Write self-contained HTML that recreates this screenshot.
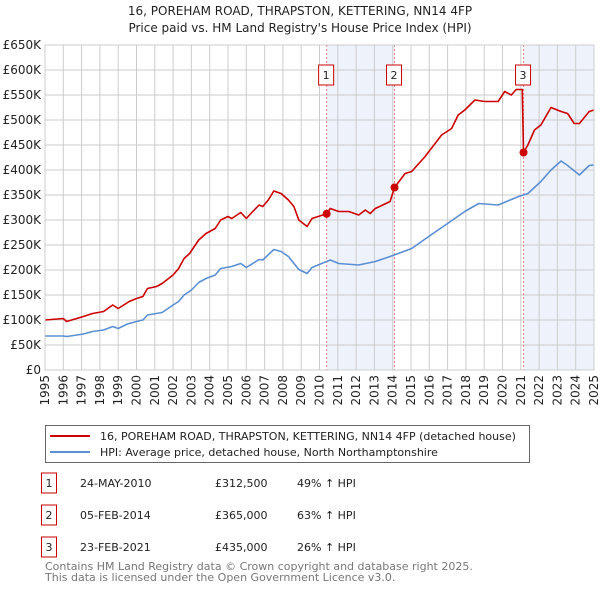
<!DOCTYPE html>
<html><head><meta charset="utf-8"><style>
body{margin:0;background:#fff;font-family:"Liberation Sans","DejaVu Sans",sans-serif;}
svg text{font-family:"DejaVu Sans","Liberation Sans",sans-serif;}
</style></head><body>
<svg id="c" width="600" height="590" viewBox="0 0 600 590" xmlns="http://www.w3.org/2000/svg">
<text x="300" y="15" text-anchor="middle" font-size="12" fill="#222">16, POREHAM ROAD, THRAPSTON, KETTERING, NN14 4FP</text>
<text x="300" y="32" text-anchor="middle" font-size="12" fill="#222">Price paid vs. HM Land Registry's House Price Index (HPI)</text>
<g id="plot"></g>
<g>
<rect x="45.5" y="425.5" width="484" height="37" fill="#fff" stroke="#666"/>
<line x1="50" y1="436" x2="90" y2="436" stroke="#cc0000" stroke-width="2"/>
<text x="100" y="440" font-size="11" fill="#222">16, POREHAM ROAD, THRAPSTON, KETTERING, NN14 4FP (detached house)</text>
<line x1="50" y1="452" x2="90" y2="452" stroke="#5b8fd4" stroke-width="2"/>
<text x="100" y="456" font-size="11" fill="#222">HPI: Average price, detached house, North Northamptonshire</text>
</g>
<g id="table" font-size="11" fill="#222"></g>
<text x="45" y="570" font-size="11" fill="#777">Contains HM Land Registry data © Crown copyright and database right 2025.</text>
<text x="45" y="581" font-size="11" fill="#777">This data is licensed under the Open Government Licence v3.0.</text>
</svg>
<script>
const hpiYears=[1995,1996,1996.2,1997.1,1997.6,1998.2,1998.7,1999.0,1999.5,2000,2000.35,2000.6,2001.4,2002,2002.3,2002.6,2003.0,2003.4,2003.8,2004.3,2004.6,2005.2,2005.7,2006.0,2006.7,2006.9,2007.5,2007.9,2008.3,2008.87,2009.32,2009.59,2010.59,2011.05,2012.14,2013.05,2013.86,2015.04,2016.2,2017.0,2017.94,2018.7,2019.76,2020.88,2021.39,2022.1,2022.65,2023.2,2023.56,2024.2,2024.74,2025];
const hpiValues=[68,68,67,72,77,80,87,83,92,97,100,110,115,130,137,150,160,175,183,190,203,207,213,205,221,220,241,237,227,201,193,205,220,213,210,217,227,243,273,293,317,333,330,347,353,377,400,418,409,390,409,410];
const propYears=[1995,1996,1996.18,1997.1,1997.6,1998.2,1998.7,1999.0,1999.6,2000,2000.35,2000.6,2001.1,2001.4,2002,2002.3,2002.6,2002.9,2003.4,2003.8,2004.3,2004.6,2005.0,2005.2,2005.7,2006.0,2006.3,2006.7,2006.9,2007.2,2007.5,2007.9,2008.3,2008.6,2008.87,2009.32,2009.59,2010.39,2010.59,2011.05,2011.6,2012.14,2012.5,2012.77,2013.05,2013.86,2014.1,2014.68,2015.04,2015.77,2016.67,2017.22,2017.58,2017.94,2018.49,2019.03,2019.76,2020.12,2020.48,2020.75,2021.08,2021.15,2021.39,2021.75,2022.1,2022.65,2023.2,2023.56,2023.92,2024.2,2024.74,2025];
const propValues=[100,103,97,107,113,117,130,123,137,143,147,163,167,173,190,203,223,233,260,273,283,300,307,303,315,303,315,330,327,340,358,353,340,327,300,287,303,312.5,323,317,317,310,320,313,323,337,365,393,397,427,470,483,510,520,540,537,537,557,550,561,561,435,450,480,490,525,517,513,493,493,517,520];
const saleLabels=["1","2","3"];
const saleYears=[2010.39,2014.1,2021.15];
const saleValues=[312.5,365,435];
const saleDates=["24-MAY-2010","05-FEB-2014","23-FEB-2021"];
const salePrices=["£312,500","£365,000","£435,000"];
const saleHpi=["49% ↑ HPI","63% ↑ HPI","26% ↑ HPI"];
const yTicks=[0,50,100,150,200,250,300,350,400,450,500,550,600,650];
const yTickLabels=["£0","£50K","£100K","£150K","£200K","£250K","£300K","£350K","£400K","£450K","£500K","£550K","£600K","£650K"];
const xTicks=[1995,1996,1997,1998,1999,2000,2001,2002,2003,2004,2005,2006,2007,2008,2009,2010,2011,2012,2013,2014,2015,2016,2017,2018,2019,2020,2021,2022,2023,2024,2025];

const NS="http://www.w3.org/2000/svg";
const X0=45,X1=594,Y0=370,Y1=45;
const xs=y=>X0+(y-1995)/30*(X1-X0);
const ys=v=>Y0-v/650*(Y0-Y1);
const plot=document.getElementById('plot');
function mk(tag,at,parent){const e=document.createElementNS(NS,tag);for(const k in at)e.setAttribute(k,at[k]);(parent||plot).appendChild(e);return e;}
// shading
[[saleYears[0],saleYears[1]],[saleYears[2],2025]].forEach((r,i)=>{
 const e=mk('rect',{x:xs(r[0]),y:Y1,width:xs(r[1])-xs(r[0]),height:Y0-Y1,fill:'#eef2fb'});
 
 
});
// grid
yTicks.forEach((t,i)=>{
 const l=mk('line',{x1:X0,x2:X1,y1:ys(t),y2:ys(t),stroke:'#ccc','stroke-width':1});
 
 
 const tx=mk('text',{x:X0-4,y:ys(t)+4,'text-anchor':'end','font-size':12,fill:'#222'});
 tx.textContent=yTickLabels[i];
 
 
});
xTicks.forEach(t=>{
 const l=mk('line',{x1:xs(t),x2:xs(t),y1:Y1,y2:Y0,stroke:'#ccc','stroke-width':1});
 
 
 const tx=mk('text',{x:0,y:0,'text-anchor':'end','font-size':12,fill:'#222',transform:`translate(${xs(t)+4},${Y0+5}) rotate(-90)`});
 tx.textContent=t;
 
 
});
// sale vlines
saleYears.forEach((y,i)=>{
 const l=mk('line',{x1:xs(y),x2:xs(y),y1:Y1,y2:Y0,stroke:'#f08080','stroke-width':1,'stroke-dasharray':'2,2'});
 
 
 const g=mk('g',{});
 
 
 mk('rect',{x:xs(y)-8,y:65,width:15,height:20,fill:'#fff',stroke:'#cc0000'},g);
 const t=mk('text',{x:xs(y)-0.5,y:79,'text-anchor':'middle','font-size':11,fill:'#222'},g);t.textContent=saleLabels[i];
});
function path(xa,va,color,name){
 const d=xa.map((y,i)=>(i?'L':'M')+xs(y).toFixed(1)+','+ys(va[i]).toFixed(1)).join('');
 const p=mk('path',{d:d,fill:'none',stroke:color,'stroke-width':1.6,'stroke-linejoin':'round'});
 
 
}
path(hpiYears,hpiValues,'#5b8fd4','hpi-line');
path(propYears,propValues,'#cc0000','property-price-line');
saleYears.forEach((y,i)=>{
 const c=mk('circle',{cx:xs(y),cy:ys(saleValues[i]),r:4,fill:'#cc0000'});
 
 
});
mk('rect',{x:X0,y:Y1,width:X1-X0,height:Y0-Y1,fill:'none',stroke:'#ccc'});
// table
const tb=document.getElementById('table');
saleLabels.forEach((s,i)=>{
 const yy=485+i*32;
 const g=mk('g',{},tb);
 
 
 mk('rect',{x:41.5,y:yy-12,width:15,height:20,fill:'#fff',stroke:'#cc0000'},g);
 const a=mk('text',{x:49,y:yy+2,'text-anchor':'middle'},g);a.textContent=s;
 const b=mk('text',{x:80,y:yy+2},g);b.textContent=saleDates[i];
 const c=mk('text',{x:215,y:yy+2},g);c.textContent=salePrices[i];
 const d=mk('text',{x:297,y:yy+2},g);d.textContent=saleHpi[i];
});
</script>
</body></html>
